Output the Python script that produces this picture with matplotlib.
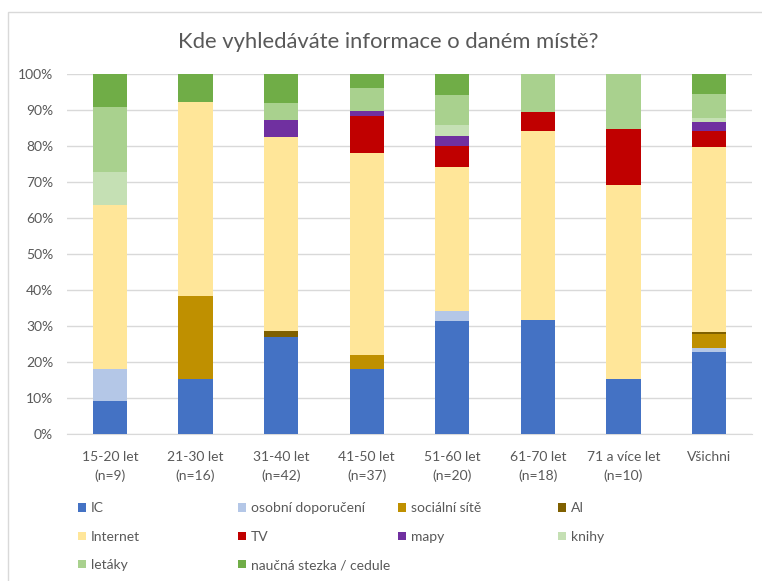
import matplotlib
matplotlib.use("Agg")
import matplotlib.pyplot as plt
import numpy as np
from matplotlib.patches import Patch, Rectangle

plt.rcParams["font.family"] = ["Lato", "DejaVu Sans"]

# values, % of answers per age group
groups = ["15-20 let\n(n=9)", "21-30 let\n(n=16)", "31-40 let\n(n=42)", "41-50 let\n(n=37)",
          "51-60 let\n(n=20)", "61-70 let\n(n=18)", "71 a více let\n(n=10)", "Všichni"]
sources = ["IC", "osobní doporučení", "sociální sítě", "AI", "Internet", "TV", "mapy",
           "knihy", "letáky", "naučná stezka / cedule"]
colors = ["#4472C4", "#B4C7E7", "#BF9000", "#7F6000", "#FFE699", "#C00000", "#7030A0",
          "#C5E0B4", "#A9D18E", "#70AD47"]

ic = [9.09, 15.38, 26.98, 18.18, 31.43, 31.58, 15.38, 22.8]
osobni = [9.09, 0, 0, 0, 2.86, 0, 0, 1.0]
socialni = [0, 23.08, 0, 3.90, 0, 0, 0, 3.9]
ai = [0, 0, 1.59, 0, 0, 0, 0, 0.5]
internet = [45.45, 53.85, 53.97, 55.84, 40.0, 52.63, 53.85, 51.4]
tv = [0, 0, 0, 10.39, 5.71, 5.26, 15.38, 4.7]
mapy = [0, 0, 4.76, 1.30, 2.86, 0, 0, 2.4]
knihy = [9.09, 0, 0, 0, 2.86, 0, 0, 1.0]
letaky = [18.18, 0, 4.76, 6.49, 8.57, 10.53, 15.38, 6.8]
naucna = [9.09, 7.69, 7.94, 3.90, 5.71, 0, 0, 5.5]

series = [ic, osobni, socialni, ai, internet, tv, mapy, knihy, letaky, naucna]

W, H = 762, 581
fig = plt.figure(figsize=(W / 100, H / 100), dpi=100)
ax = fig.add_axes([67 / W, 1 - 434 / H, 685 / W, 360 / H])

x = np.arange(len(groups))
bottom = np.zeros(len(groups))
handles = []
for name, vals, col in zip(sources, series, colors):
    ax.bar(x, vals, 0.4, bottom=bottom, color=col, label=name, zorder=3)
    bottom += np.array(vals)
    handles.append(Patch(facecolor=col, label=name))

ax.set_xlim(-0.5, len(groups) - 0.5)
ax.set_ylim(0, 100)
ax.set_yticks(np.arange(0, 101, 10))
ax.set_yticklabels([f"{v}%" for v in range(0, 101, 10)])
ax.set_xticks(x)
ax.set_xticklabels(groups, linespacing=1.6)
ax.yaxis.grid(True, color="#D9D9D9", linewidth=1, zorder=0)
for s in ["top", "right", "left"]:
    ax.spines[s].set_visible(False)
ax.spines["bottom"].set_color("#D9D9D9")
ax.tick_params(axis="both", length=0, colors="#595959", labelsize=10)
ax.tick_params(axis="x", pad=12)
ax.tick_params(axis="y", pad=10)

fig.text(388 / W, 1 - 42 / H, "Kde vyhledáváte informace o daném místě?", ha="center", va="center",
         fontsize=15.8, color="#595959")

# legend: one small legend per column so the columns sit at even steps
col_x = [78, 238, 398, 558]
columns = [[0, 4, 8], [1, 5, 9], [2, 6], [3, 7]]
for cx, idx in zip(col_x, columns):
    fig.legend([handles[i] for i in idx], [sources[i] for i in idx],
               loc="upper left", bbox_to_anchor=(cx / W, 1 - 502.5 / H),
               frameon=False, fontsize=10, labelcolor="#595959",
               handlelength=0.58, handleheight=0.58, handletextpad=0.35,
               labelspacing=1.17, borderaxespad=0, borderpad=0)

# chart-area border (only left and top edges fall inside the image)
fig.patches.append(Rectangle((8 / W, -0.1), 1.0, 1 - 12 / H + 0.1, transform=fig.transFigure,
                             fill=False, edgecolor="#D9D9D9", linewidth=1))

fig.savefig("out.png", dpi=100)
